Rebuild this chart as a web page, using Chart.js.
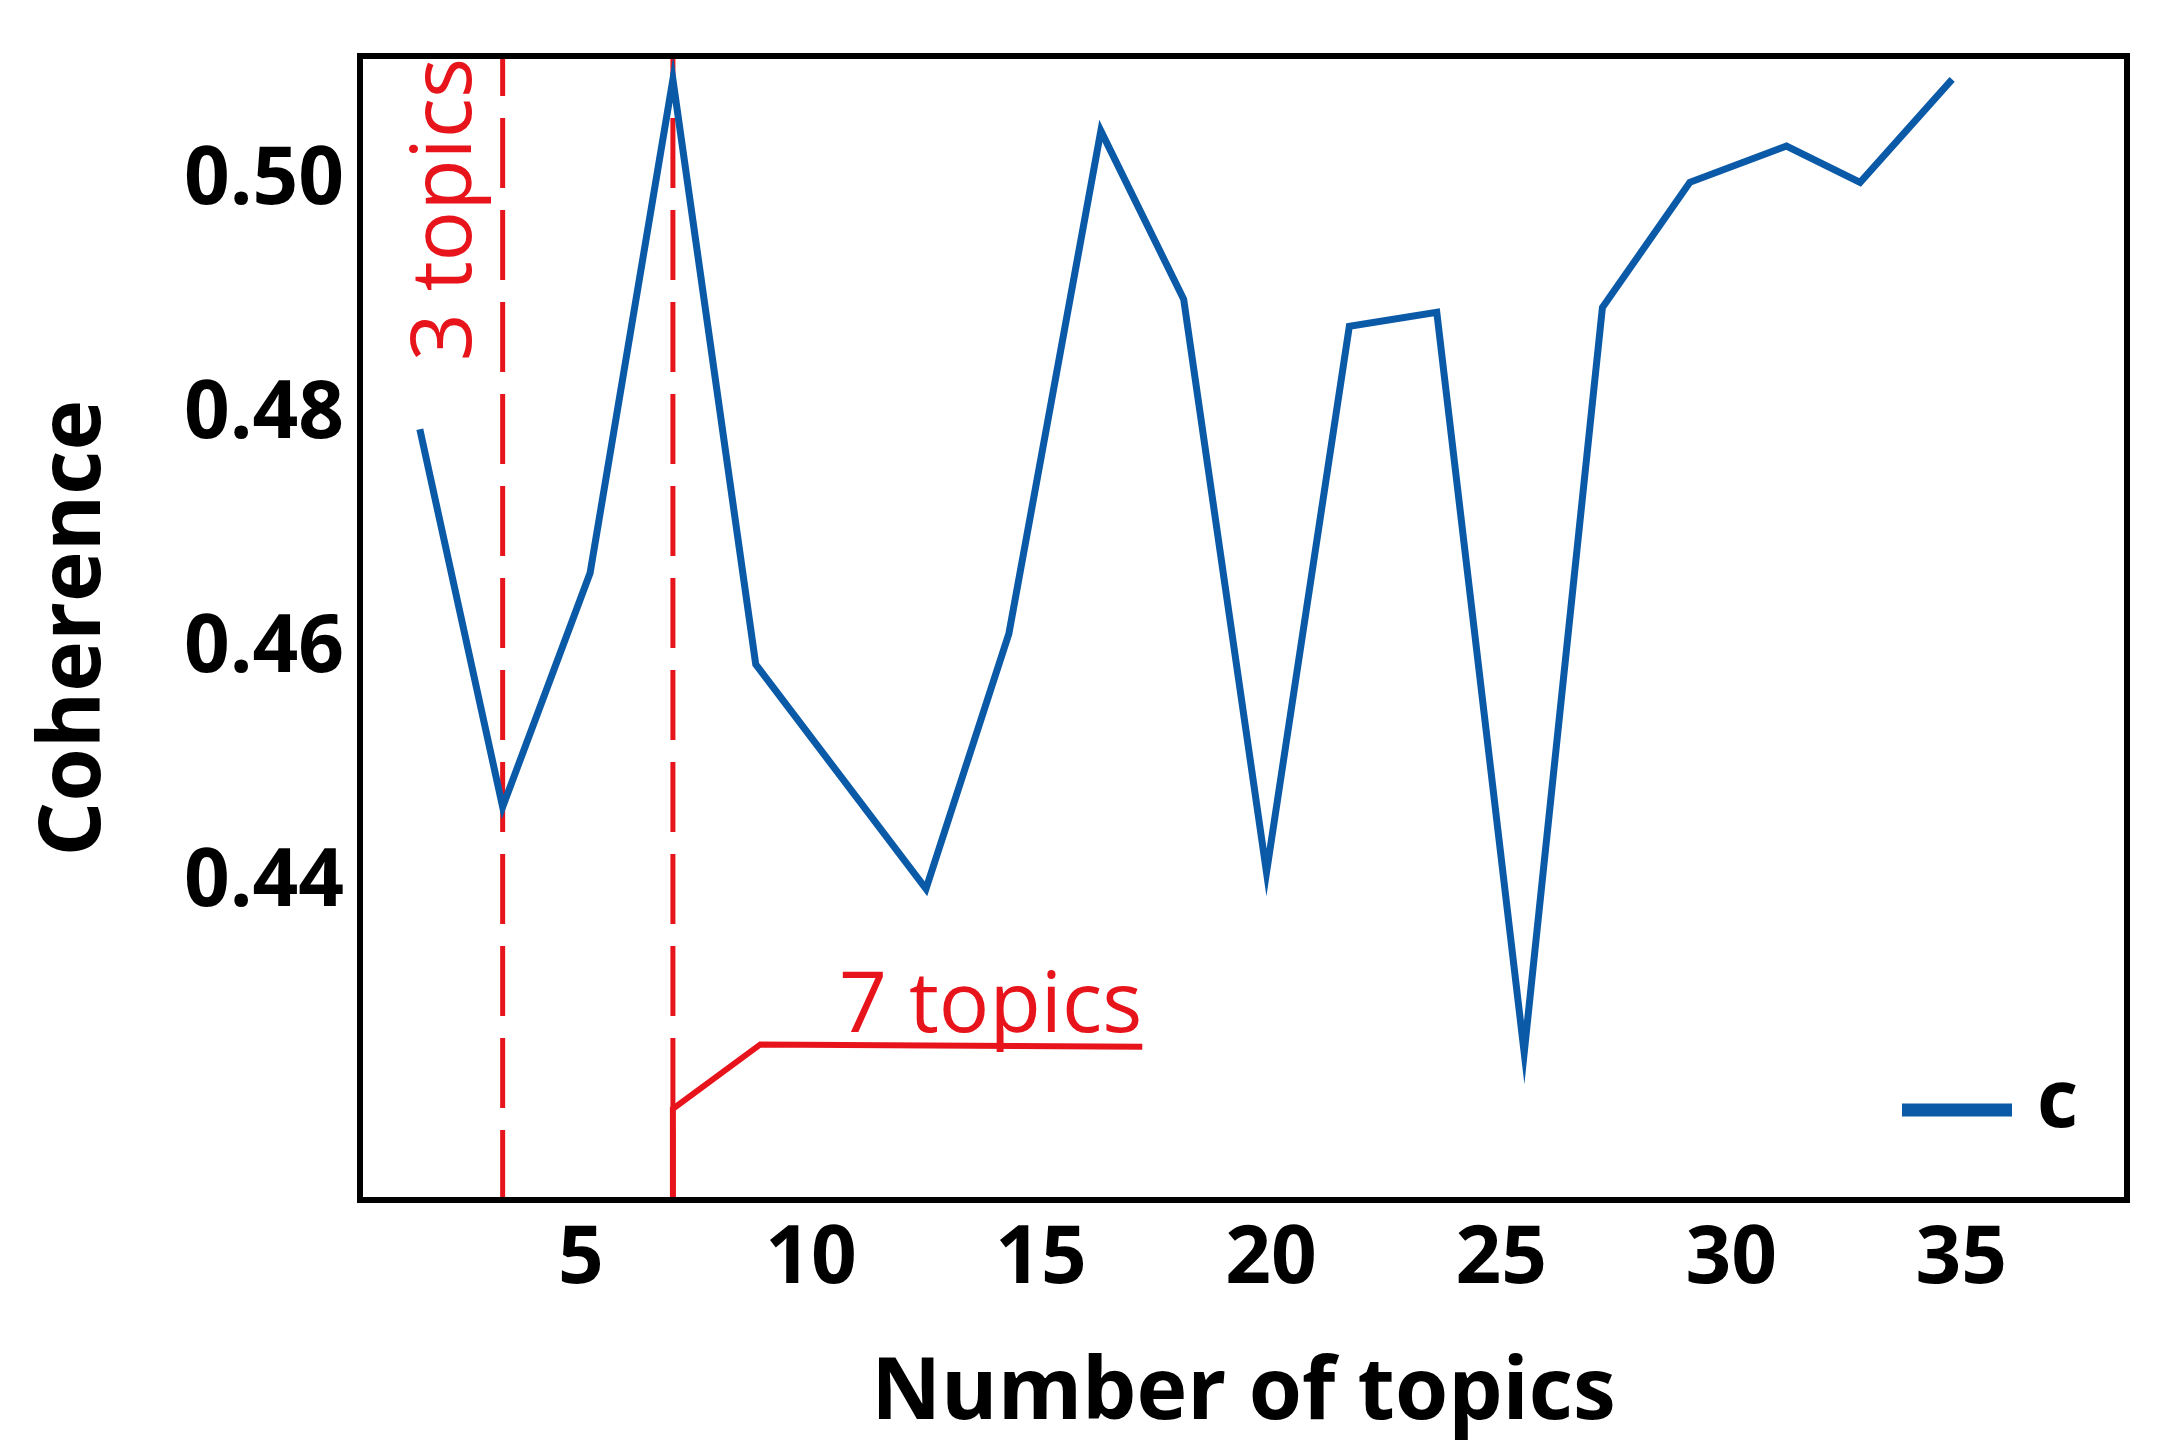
<!DOCTYPE html>
<html>
<head>
<meta charset="utf-8">
<script src="https://cdn.jsdelivr.net/npm/chart.js@4"></script>
<style>
  html, body { margin: 0; padding: 0; background: #fff; }
  #wrap { width: 2160px; height: 1450px; }
</style>
</head>
<body>
<div id="wrap"><canvas id="chart" width="2160" height="1450"></canvas></div>
<script>
const topics = [1.5, 3.3, 5.2, 7.0, 8.8, 12.5, 14.3, 16.3, 18.1, 19.9, 21.7, 23.6, 25.5, 27.2, 29.1, 31.2, 32.8, 34.8];
const coherence = [0.4788, 0.4465, 0.4665, 0.5087, 0.4587, 0.4395, 0.4613, 0.5043, 0.4899, 0.4409, 0.4876, 0.4888, 0.4255, 0.4892, 0.4999, 0.5030, 0.4999, 0.5087];
const xTicks = [5, 10, 15, 20, 25, 30, 35];
const yTicks = [0.44, 0.46, 0.48, 0.50];
const markers = [3.3, 7.0];
const pointerX = [7.0, 7.0, 8.9, 17.2];
const pointerY = [0.4129, 0.4207, 0.4262, 0.4260];

const RED = '#e8141c';
const BLUE = '#0a5aa8';
const FONT = '"Open Sans", sans-serif';

const annotate = {
  id: 'annotate',
  afterDatasetsDraw(chart) {
    const c = chart.ctx, a = chart.chartArea;
    const xs = chart.scales.x, ys = chart.scales.y;
    c.save();
    c.strokeStyle = '#000';
    c.lineWidth = 6;
    c.strokeRect(a.left, a.top, a.right - a.left, a.bottom - a.top);
    c.fillStyle = RED;
    c.font = '84px ' + FONT;
    c.save();
    c.translate(xs.getPixelForValue(markers[0]) - 32, a.top + 2);
    c.rotate(-Math.PI / 2);
    c.textAlign = 'right';
    c.textBaseline = 'alphabetic';
    c.fillText('3 topics', 0, 0);
    c.restore();
    c.textAlign = 'right';
    c.textBaseline = 'alphabetic';
    c.fillText('7 topics', xs.getPixelForValue(pointerX[3]), ys.getPixelForValue(pointerY[2]) - 12);
    // legend
    const lx = a.right - 225, ly = a.bottom - 90;
    c.strokeStyle = BLUE;
    c.lineWidth = 13;
    c.beginPath();
    c.moveTo(lx, ly);
    c.lineTo(lx + 110, ly);
    c.stroke();
    c.fillStyle = '#000';
    c.font = 'bold 80px ' + FONT;
    c.textAlign = 'left';
    c.textBaseline = 'middle';
    c.fillText('c', lx + 135, ly - 6);
    c.restore();
  }
};

const vline = (x) => ({
  data: [{ x: x, y: 0.4129 }, { x: x, y: 0.5107 }],
  borderColor: RED, borderWidth: 5, borderDash: [70, 22],
  pointRadius: 0, fill: false
});

new Chart(document.getElementById('chart'), {
  type: 'line',
  data: {
    datasets: [
      {
        label: 'c',
        data: topics.map((t, i) => ({ x: t, y: coherence[i] })),
        borderColor: BLUE, borderWidth: 7, pointRadius: 0, tension: 0, fill: false
      },
      vline(markers[0]),
      vline(markers[1]),
      {
        data: pointerX.map((t, i) => ({ x: t, y: pointerY[i] })),
        borderColor: RED, borderWidth: 6, pointRadius: 0, tension: 0, fill: false
      }
    ]
  },
  options: {
    responsive: false,
    animation: false,
    layout: { padding: { left: 20, right: 33, top: 27, bottom: 0 } },
    plugins: { legend: { display: false }, tooltip: { enabled: false } },
    scales: {
      x: {
        type: 'linear', min: 0.2, max: 38.6,
        grid: { display: false }, border: { display: false },
        afterBuildTicks: s => { s.ticks = xTicks.map(v => ({ value: v })); },
        afterFit: s => { s.height = 250; },
        ticks: { color: '#000', font: { family: FONT, weight: 'bold', size: 80 }, padding: 4 },
        title: { display: true, text: 'Number of topics', color: '#000',
                 font: { family: FONT, weight: 'bold', size: 86 }, padding: { top: 0 } }
      },
      y: {
        type: 'linear', min: 0.4129, max: 0.5107,
        grid: { display: false }, border: { display: false },
        afterBuildTicks: s => { s.ticks = yTicks.map(v => ({ value: v })); },
        afterFit: s => { s.width = 340; },
        ticks: { color: '#000', font: { family: FONT, weight: 'bold', size: 80 }, padding: 8,
                 callback: v => v.toFixed(2) },
        title: { display: true, text: 'Coherence', color: '#000',
                 font: { family: FONT, weight: 'bold', size: 86 }, padding: { bottom: 6 } }
      }
    }
  },
  plugins: [annotate]
});
</script>
</body>
</html>
